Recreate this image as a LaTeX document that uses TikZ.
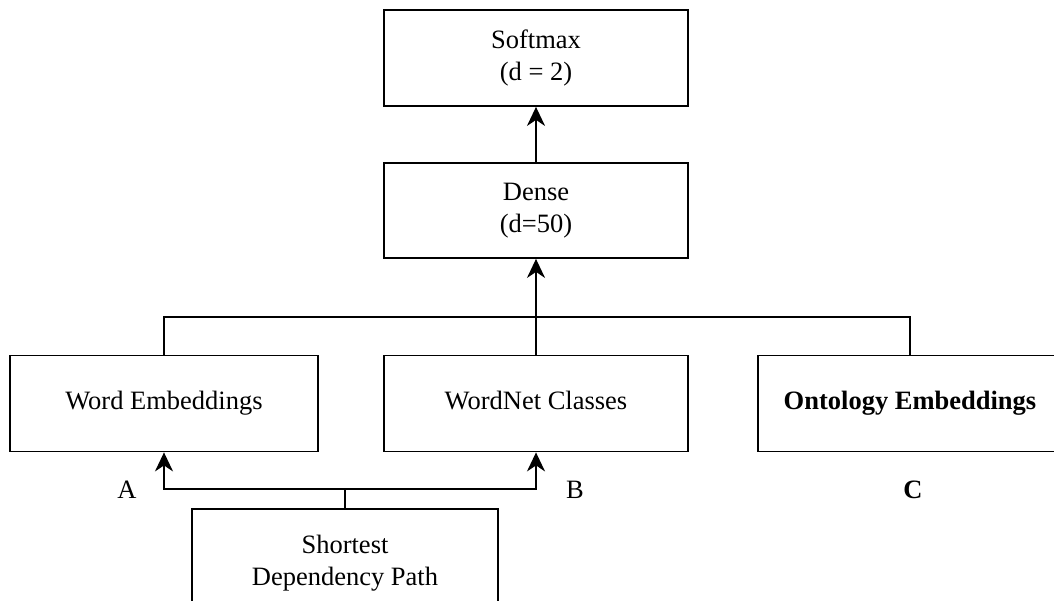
\documentclass[tikz,border=0pt]{standalone}
\usepackage{fontspec}
\setmainfont{Liberation Serif}
\usetikzlibrary{arrows.meta}
\begin{document}
\begin{tikzpicture}[x=1pt,y=-1pt,
  layer/.style={draw,line width=1.8pt,rectangle,minimum width=304pt,minimum height=96pt,
    inner sep=0pt,align=center,font=\fontsize{26.5}{32}\selectfont},
  oneline/.style={text height=18pt,text depth=6pt},
  link/.style={line width=1.8pt},
  arr/.style={link,-{Stealth[length=19pt,width=18pt,inset=6pt]}},
  tag/.style={font=\fontsize{26.5}{32}\selectfont,inner sep=0pt}]
\useasboundingbox (0,0) rectangle (1054,601);
\begin{scope}
\clip (0,0) rectangle (1054,601);
% layers
\node[layer] (soft) at (536,58) {Softmax\\(d = 2)};
\node[layer,minimum height=95pt] (dense) at (536,210.5) {Dense\\(d=50)};
\node[layer,oneline,minimum width=308pt,minimum height=96pt] (we) at (164,403.5) {Word Embeddings};
\node[layer,oneline] (wn) at (536,403.5) {WordNet Classes};
\node[layer,oneline] (onto) at (910,403.5) {\bfseries Ontology Embeddings};
\node[layer,minimum width=306pt,minimum height=98pt,text height=60pt] (sdp) at (345,558)
  {Shortest\\Dependency Path};
% upper merge bus
\coordinate (bus) at (536,317);
\draw[link] (we.north) -- (we.north |- bus) -- (onto.north |- bus) -- (onto.north);
\draw[arr] (wn.north) -- (dense.south);
\draw[arr] (dense.north) -- (soft.south);
% lower split bus
\coordinate (lb) at (345,489);
\draw[link] (sdp.north) -- (lb);
\draw[arr] (lb) -| (we.south);
\draw[arr] (lb) -| (wn.south);
% branch labels
\node[tag] (la) at (127,490) {A};
\node[tag] (lbb) at (575,490) {B};
\node[tag] (lc) at (913,490) {\bfseries C};
\end{scope}
\end{tikzpicture}
\end{document}
